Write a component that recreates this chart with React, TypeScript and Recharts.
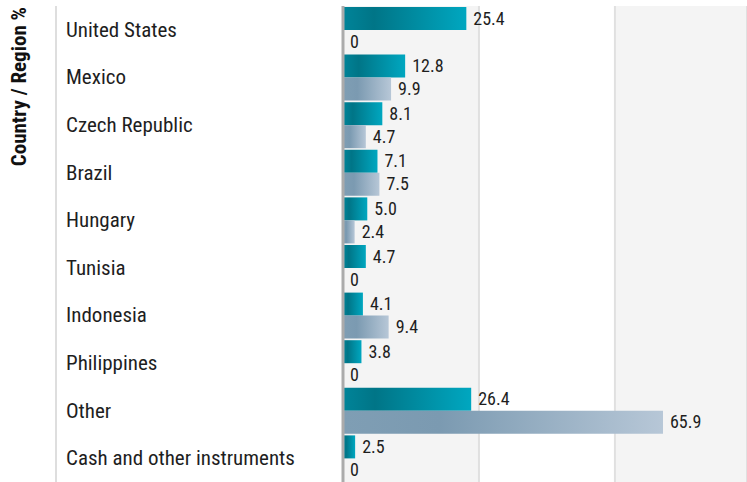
import { Bar, BarChart, CartesianGrid, LabelList, XAxis, YAxis } from "recharts";

const categories = [
  "United States",
  "Mexico",
  "Czech Republic",
  "Brazil",
  "Hungary",
  "Tunisia",
  "Indonesia",
  "Philippines",
  "Other",
  "Cash and other instruments",
];
const fundValues = [25.4, 12.8, 8.1, 7.1, 5.0, 4.7, 4.1, 3.8, 26.4, 2.5];
const benchmarkValues = [0, 9.9, 4.7, 7.5, 2.4, 0, 9.4, 0, 65.9, 0];
const xTicks = [0, 28, 56];

const FONT = "'Roboto Condensed', 'Liberation Sans Narrow', 'DejaVu Sans Condensed', Roboto, sans-serif";
const TEXT_COLOR = "#1e1e1e";

const chartData = categories.map((name, index) => ({
  name,
  fund: fundValues[index],
  benchmark: benchmarkValues[index],
}));

function formatValue(value: unknown) {
  const num = Number(value ?? 0);
  return num === 0 ? "0" : num.toFixed(1);
}

function CategoryTick(props: any) {
  const { y, payload } = props;
  return (
    <text
      x={66}
      y={y}
      dy={7}
      textAnchor="start"
      fill={TEXT_COLOR}
      fontSize={21}
      fontFamily={FONT}
    >
      {payload.value}
    </text>
  );
}

function valueText(x: number, y: number, value: unknown, key?: string) {
  return (
    <text
      key={key}
      x={x}
      y={y}
      dy={6}
      textAnchor="start"
      fill={TEXT_COLOR}
      fontSize={18}
      fontFamily={FONT}
    >
      {formatValue(value)}
    </text>
  );
}

// fund labels; a zero-width benchmark bar is not drawn, so its "0" is placed below the fund bar
function FundLabel(props: any) {
  const x = Number(props?.x ?? 0);
  const y = Number(props?.y ?? 0);
  const width = Number(props?.width ?? 0);
  const height = Number(props?.height ?? 0);
  const index = Number(props?.index ?? -1);
  const benchmark = benchmarkValues[index];
  return (
    <g>
      {valueText(x + width + 7, y + height / 2, props?.value, "fund")}
      {benchmark === 0 ? valueText(x + 7, y + height * 1.5, 0, "bench") : null}
    </g>
  );
}

function BenchmarkLabel(props: any) {
  const x = Number(props?.x ?? 0);
  const y = Number(props?.y ?? 0);
  const width = Number(props?.width ?? 0);
  const height = Number(props?.height ?? 0);
  if (Number(props?.value ?? 0) === 0) {
    return null;
  }
  return valueText(x + width + 7, y + height / 2, props?.value);
}

export default function App() {
  return (
    <div style={{ position: "relative", width: 747, height: 482, background: "#fff" }}>
      <style>{`body { margin: 0; }`}</style>
      <div
        style={{
          position: "absolute",
          left: 55,
          top: 6,
          width: 2,
          height: 476,
          background: "#dedede",
        }}
      />
      <BarChart
        width={747}
        height={482}
        data={chartData}
        layout="vertical"
        margin={{ top: 6, right: 0, left: 0, bottom: 0 }}
        barCategoryGap={1}
        barGap={0}
      >
        <defs>
          <linearGradient id="fund-fill" x1="0" y1="0" x2="1" y2="0">
            <stop offset="0%" stopColor="#008499" />
            <stop offset="25%" stopColor="#007587" />
            <stop offset="100%" stopColor="#00a7c0" />
          </linearGradient>
          <linearGradient id="benchmark-fill" x1="0" y1="0" x2="1" y2="0">
            <stop offset="0%" stopColor="#7f9eb4" />
            <stop offset="30%" stopColor="#7b9ab1" />
            <stop offset="100%" stopColor="#b7c7d7" />
          </linearGradient>
        </defs>
        <CartesianGrid
          horizontal={false}
          stroke="#e0e0e0"
          strokeWidth={2}
          verticalFill={["#f4f4f4", "#ffffff"]}
        />
        <XAxis type="number" hide domain={[0, 83.2]} ticks={xTicks} />
        <YAxis
          type="category"
          dataKey="name"
          width={343}
          tickLine={false}
          axisLine={{ stroke: "#ababab", strokeWidth: 3 }}
          tick={<CategoryTick />}
          interval={0}
          label={{
            content: () => (
              <text
                x={0}
                y={0}
                transform="translate(26, 7) rotate(-90)"
                textAnchor="end"
                fill="#111"
                fontSize={21}
                fontWeight={700}
                fontFamily={FONT}
              >
                Country / Region %
              </text>
            ),
          }}
        />
        <Bar dataKey="fund" fill="url(#fund-fill)" isAnimationActive={false}>
          <LabelList dataKey="fund" content={<FundLabel />} />
        </Bar>
        <Bar dataKey="benchmark" fill="url(#benchmark-fill)" isAnimationActive={false}>
          <LabelList dataKey="benchmark" content={<BenchmarkLabel />} />
        </Bar>
      </BarChart>
    </div>
  );
}
